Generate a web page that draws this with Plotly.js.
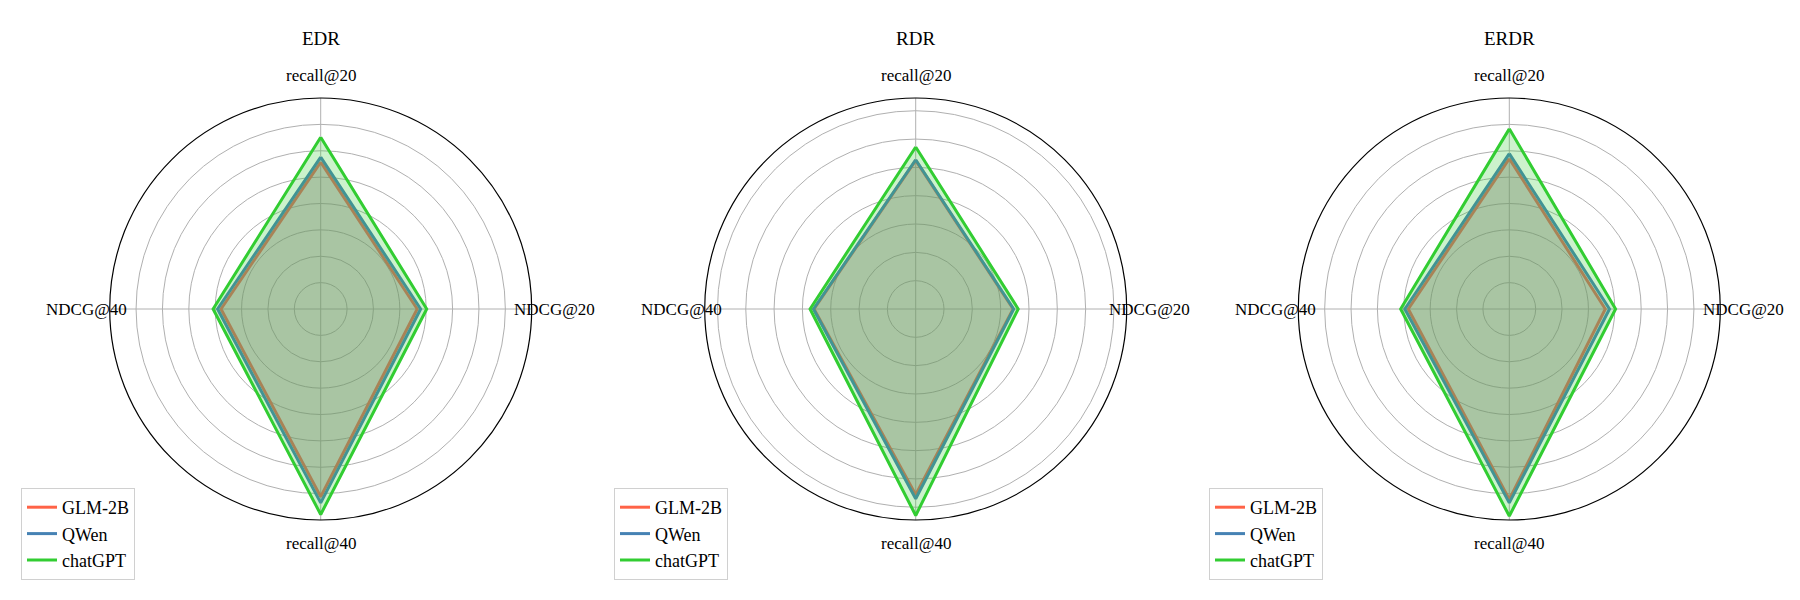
<!DOCTYPE html>
<html>
<head>
<meta charset="utf-8">
<script src="https://cdn.plot.ly/plotly-3.0.1.min.js"></script>
<style>html,body{margin:0;padding:0;background:#fff;}#chart{width:1800px;height:600px;}</style>
</head>
<body>
<div id="chart"></div>
<script>
// Data
const categories = ["recall@20", "NDCG@20", "recall@40", "NDCG@40"];
const panels = ["EDR", "RDR", "ERDR"];
const models = ["GLM-2B", "QWen", "chatGPT"];

const EDR_GLM = [0.557, 0.366, 0.712, 0.378];
const EDR_QWen = [0.576, 0.379, 0.735, 0.391];
const EDR_chatGPT = [0.651, 0.402, 0.779, 0.408];

const RDR_GLM = [0.525, 0.344, 0.656, 0.359];
const RDR_QWen = [0.527, 0.346, 0.670, 0.361];
const RDR_chatGPT = [0.572, 0.362, 0.729, 0.373];

const ERDR_GLM = [0.570, 0.364, 0.722, 0.383];
const ERDR_QWen = [0.589, 0.380, 0.735, 0.396];
const ERDR_chatGPT = [0.683, 0.403, 0.785, 0.412];

const radialMax = [0.8, 0.745, 0.8];
const radialTicks = [0.1, 0.2, 0.3, 0.4, 0.5, 0.6, 0.7];

const panelData = [
  [EDR_GLM, EDR_QWen, EDR_chatGPT],
  [RDR_GLM, RDR_QWen, RDR_chatGPT],
  [ERDR_GLM, ERDR_QWen, ERDR_chatGPT]
];

const lineColors = ["#FF6347", "#4682B4", "#32CD32"];
const fillColors = ["rgba(255,99,71,0.25)", "rgba(70,130,180,0.25)", "rgba(50,205,50,0.25)"];

const FONT = "Liberation Serif, Times New Roman, serif";

// Layout geometry (pixels)
const W = 1800, H = 600;
const centersX = [320.7, 915.7, 1509.3];
const centerY = 309;
const R = 211;
const labelDist = 234;
const legendX = [21, 614, 1209];
// angular label directions (clockwise from top), matching the axis rotation
const labelDirs = [[0, -1], [1, 0], [0, 1], [-1, 0]];

const traces = [];
panelData.forEach((series, p) => {
  const subplot = p === 0 ? "polar" : "polar" + (p + 1);
  const legend = p === 0 ? "legend" : "legend" + (p + 1);
  series.forEach((vals, m) => {
    const r = vals.concat([vals[0]]);
    const theta = categories.concat([categories[0]]);
    traces.push({
      type: "scatterpolar", r: r, theta: theta,
      mode: "lines", fill: "toself", fillcolor: fillColors[m],
      line: {color: "rgba(0,0,0,0)", width: 0},
      showlegend: false, subplot: subplot, hoverinfo: "skip"
    });
    traces.push({
      type: "scatterpolar", r: r, theta: theta,
      mode: "lines",
      line: {color: lineColors[m], width: 3},
      name: models[m], subplot: subplot, legend: legend, hoverinfo: "skip"
    });
  });
});

const layout = {
  width: W, height: H,
  margin: {l: 0, r: 0, t: 0, b: 0},
  paper_bgcolor: "#fff",
  font: {family: FONT, size: 16, color: "#000"},
  annotations: [],
  showlegend: true
};

panels.forEach((name, p) => {
  const key = p === 0 ? "polar" : "polar" + (p + 1);
  layout[key] = {
    domain: {
      x: [(centersX[p] - R) / W, (centersX[p] + R) / W],
      y: [(H - centerY - R) / H, (H - centerY + R) / H]
    },
    bgcolor: "#fff",
    radialaxis: {
      range: [0, radialMax[p]],
      tickvals: radialTicks,
      showticklabels: false,
      ticks: "",
      showline: false,
      gridcolor: "#b0b0b0",
      gridwidth: 1
    },
    angularaxis: {
      type: "category",
      categoryarray: categories,
      rotation: 90,
      direction: "clockwise",
      showline: true,
      linecolor: "#000",
      linewidth: 1.2,
      gridcolor: "#b0b0b0",
      gridwidth: 1,
      ticks: "",
      showticklabels: false
    }
  };
  const lkey = p === 0 ? "legend" : "legend" + (p + 1);
  layout[lkey] = {
    x: legendX[p] / W,
    y: 1 - 488 / H,
    xanchor: "left",
    yanchor: "top",
    bgcolor: "rgba(255,255,255,0.8)",
    bordercolor: "#d0d0d0",
    borderwidth: 1,
    font: {family: FONT, size: 18, color: "#000"},
    tracegroupgap: 0
  };
  layout.annotations.push({
    text: name,
    x: centersX[p] / W,
    y: 1 - 38 / H,
    xref: "paper", yref: "paper",
    xanchor: "center", yanchor: "middle",
    showarrow: false,
    font: {family: FONT, size: 19, color: "#000"}
  });
  categories.forEach((cat, i) => {
    const d = labelDirs[i];
    layout.annotations.push({
      text: cat,
      x: (centersX[p] + d[0] * labelDist) / W,
      y: 1 - (centerY + d[1] * labelDist) / H,
      xref: "paper", yref: "paper",
      xanchor: "center", yanchor: "middle",
      showarrow: false,
      font: {family: FONT, size: 17, color: "#000"}
    });
  });
});

Plotly.newPlot("chart", traces, layout, {displayModeBar: false, staticPlot: true});
</script>
</body>
</html>
